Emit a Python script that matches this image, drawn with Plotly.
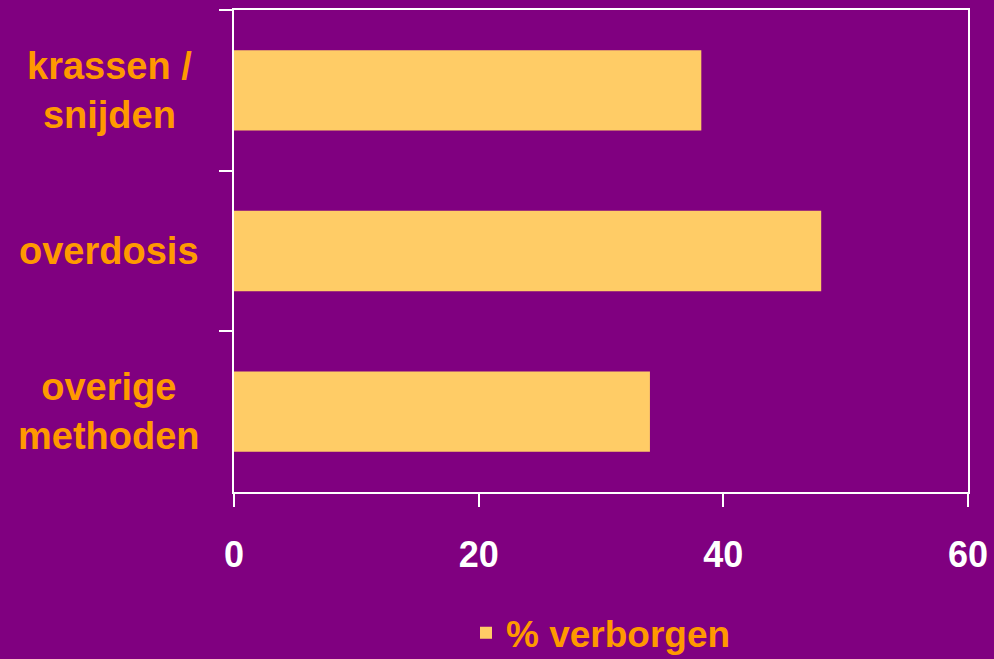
import plotly.graph_objects as go

categories = ["krassen /<br>snijden", "overdosis", "overige<br>methoden"]
values = [38.2, 48.0, 34.0]
series_name = "% verborgen"
x_ticks = [0, 20, 40, 60]

PURPLE = "#800080"
BAR = "#FFCC66"
ORANGE = "#FF9900"
FONT = "Liberation Sans, Arial, sans-serif"

fig = go.Figure()
fig.add_trace(go.Bar(
    y=categories,
    x=values,
    orientation="h",
    width=0.5,
    marker=dict(color=BAR, line=dict(width=0)),
    name=series_name,
    showlegend=True,
))

for c in categories:
    fig.add_annotation(
        x=-0.17, xref="paper", y=c, yref="y",
        text=c, showarrow=False, xanchor="center", yanchor="middle",
        align="center",
        font=dict(family=FONT, size=38, color=ORANGE, weight="bold"),
    )

fig.update_layout(
    width=994, height=659,
    paper_bgcolor=PURPLE, plot_bgcolor=PURPLE,
    margin=dict(l=234, r=26, t=10, b=167, autoexpand=False),
    showlegend=True,
    legend=dict(
        x=0.5, xanchor="center", y=-0.293, yanchor="middle",
        orientation="h", bgcolor="rgba(0,0,0,0)",
        font=dict(family=FONT, size=37, color=ORANGE, weight="bold"),
        itemwidth=30,
    ),
    xaxis=dict(
        range=[0, 60], tickvals=x_ticks, ticktext=[str(v) for v in x_ticks],
        showgrid=False, zeroline=False, automargin=False,
        showline=True, linecolor="white", linewidth=2, mirror=True,
        ticks="outside", ticklen=13, tickwidth=2, tickcolor="white",
        tickfont=dict(family=FONT, size=36, color="white", weight="bold"),
        ticklabelstandoff=17,
    ),
    yaxis=dict(
        type="category", categoryorder="array", categoryarray=categories,
        autorange="reversed", automargin=False,
        showticklabels=False, tickson="boundaries",
        showgrid=False, zeroline=False,
        showline=True, linecolor="white", linewidth=2, mirror=True,
        ticks="outside", ticklen=13, tickwidth=2, tickcolor="white",
    ),
)

fig.write_html(
    "out.html",
    config={"displayModeBar": False},
    post_script="document.body.style.margin='0';document.body.style.background='#800080';",
)
